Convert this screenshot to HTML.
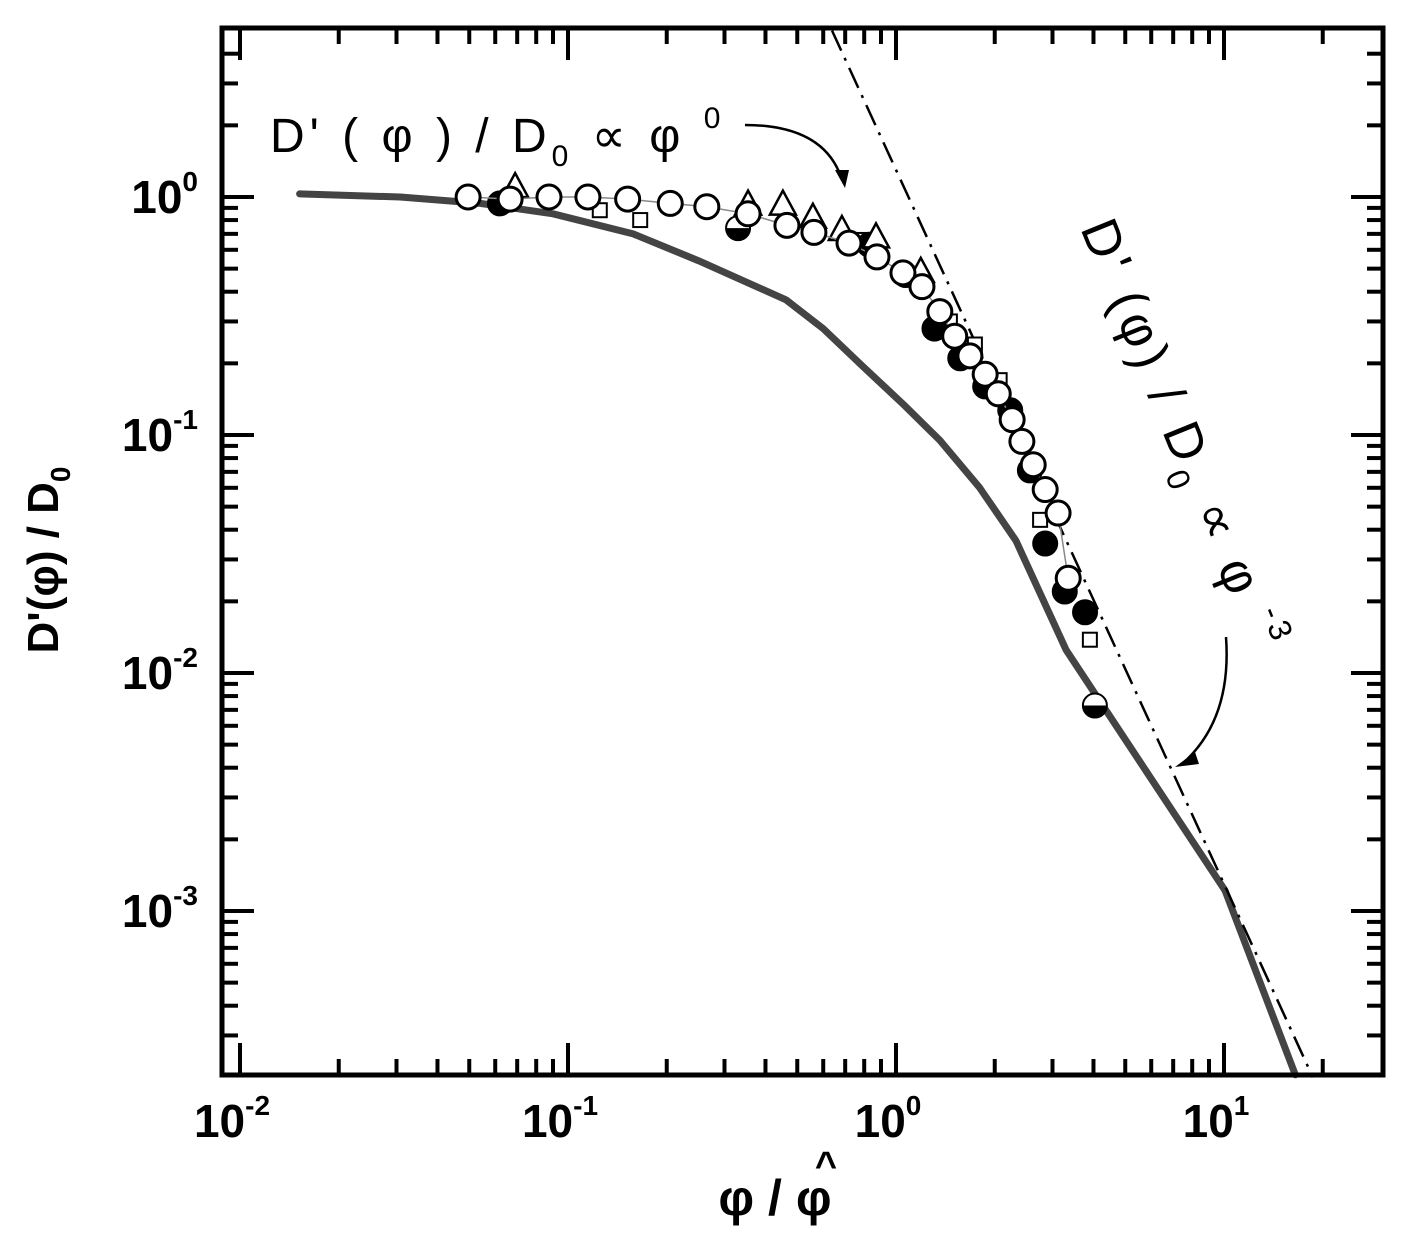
<!DOCTYPE html>
<html><head><meta charset="utf-8"><style>
body{margin:0;background:#fff;}
svg{display:block;}
text{font-family:"Liberation Sans",sans-serif;}
</style></head><body>
<svg id="chart" width="1416" height="1236" viewBox="0 0 1416 1236" xmlns="http://www.w3.org/2000/svg">
<g id="marks"></g>
<g id="axes"></g>
<text x="270" y="152" font-size="48" letter-spacing="5">D' ( φ ) / D<tspan font-size="30" dy="14">0</tspan><tspan dy="-14"> ∝ φ </tspan><tspan font-size="30" dy="-24">0</tspan></text>
<path d="M745,125 Q825,125 842,180" fill="none" stroke="#000" stroke-width="2.5"/>
<polygon points="835,170 849,170 845,188" fill="#000"/>
<text transform="translate(1080,228) rotate(68)" font-size="52" letter-spacing="5">D' (φ) / D<tspan font-size="32" dy="14">0</tspan><tspan dy="-14"> ∝ φ </tspan><tspan font-size="32" dy="-24">-3</tspan></text>
<path d="M1226,637 Q1232,720 1182,764" fill="none" stroke="#000" stroke-width="2.5"/>
<polygon points="1175,767 1195,752 1199,764" fill="#000"/>
<text transform="translate(58,560) rotate(-90)" text-anchor="middle" font-size="44" font-weight="bold">D'(φ) / D<tspan font-size="28" dy="12">0</tspan></text>
<text x="775" y="1215" text-anchor="middle" font-size="50" font-weight="bold">φ / φ</text>
<text x="826" y="1178" text-anchor="middle" font-size="38" font-weight="bold">^</text>
</svg>
<script>
const circleX=[0.0496,0.0666,0.0875,0.115,0.152,0.205,0.265,0.354,0.465,0.562,0.719,0.875,1.05,1.2,1.36,1.51,1.68,1.87,2.05,2.26,2.42,2.62,2.85,3.12,3.35];
const circleY=[1.0,0.98,1.0,1.0,0.98,0.94,0.91,0.85,0.76,0.71,0.64,0.56,0.48,0.42,0.33,0.26,0.215,0.18,0.149,0.116,0.094,0.075,0.059,0.047,0.025];
const triX=[0.069,0.354,0.452,0.558,0.684,0.869,1.19];
const triY=[1.09,0.92,0.92,0.81,0.72,0.67,0.48];
const filledX=[0.062,0.33,0.83,1.07,1.31,1.57,1.87,2.23,2.56,2.85,3.27,3.77,4.04];
const filledY=[0.94,0.74,0.63,0.47,0.28,0.21,0.16,0.127,0.071,0.035,0.022,0.018,0.0073];
const squareX=[0.125,0.166,0.78,1.46,1.74,2.07,2.75,3.9];
const squareY=[0.88,0.80,0.66,0.30,0.24,0.17,0.044,0.0138];
const curveX=[0.0152,0.0308,0.054,0.09,0.158,0.25,0.462,0.6,0.79,1.05,1.36,1.8,2.32,3.3,5.17,10.07,16.5];
const curveY=[1.03,1.0,0.94,0.85,0.70,0.54,0.37,0.28,0.195,0.135,0.095,0.06,0.036,0.0125,0.0049,0.00122,0.000205];
const powerA=1.3, powerExp=-3;
const xTicks=[0.01,0.1,1,10];
const xTickLabels=["-2","-1","0","1"];
const yTicks=[1,0.1,0.01,0.001];
const yTickLabels=["0","-1","-2","-3"];

const L=222,R=1383,T=28,B=1075;
const X0=896,XD=328,Y0=197,YD=238;
const sx=v=>X0+XD*Math.log10(v);
const sy=v=>Y0-YD*Math.log10(v);
const NS="http://www.w3.org/2000/svg";
const marks=document.getElementById('marks'), axes=document.getElementById('axes');
function mk(tag,attrs,parent){const e=document.createElementNS(NS,tag);for(const k in attrs)e.setAttribute(k,attrs[k]);parent.appendChild(e);return e;}

// model curve (polyline)
const d=curveX.map((x,i)=>(i?'L':'M')+sx(x).toFixed(1)+','+sy(curveY[i]).toFixed(1)).join(' ');
const cv=mk('path',{d:d,fill:'none',stroke:'#444','stroke-width':7,'stroke-linejoin':'round','stroke-linecap':'round'},marks);


// power law line
const xa=Math.pow(5/powerA,1/powerExp), xb=Math.pow(0.0002/powerA,1/powerExp);
const pl=mk('line',{x1:sx(xa),y1:sy(powerA*Math.pow(xa,powerExp)),x2:sx(xb),y2:sy(powerA*Math.pow(xb,powerExp)),stroke:'#000','stroke-width':2.5,'stroke-dasharray':'22,8,3,8'},marks);


// squares
squareX.forEach((x,i)=>{const e=mk('rect',{x:sx(x)-7,y:sy(squareY[i])-7,width:14,height:14,fill:'#fff',stroke:'#000','stroke-width':2},marks);

});
// filled
filledX.forEach((x,i)=>{const cx=sx(x),cy=sy(filledY[i]);
const e=mk('circle',{cx:cx,cy:cy,r:12,fill:'#000',stroke:'#000','stroke-width':2},marks);


if(i==1||i==filledX.length-1){e.setAttribute('fill','#fff');mk('path',{d:`M${cx-12},${cy} A12,12 0 0 0 ${cx+12},${cy} Z`,fill:'#000'},marks);}});
// triangles
triX.forEach((x,i)=>{const cx=sx(x),cy=sy(triY[i]);
const e=mk('polygon',{points:`${cx},${cy-15} ${cx-13},${cy+9} ${cx+13},${cy+9}`,fill:'#fff',stroke:'#000','stroke-width':2.5},marks);

});
// circles connector
mk('path',{d:circleX.map((x,i)=>(i?'L':'M')+sx(x)+','+sy(circleY[i])).join(' '),fill:'none',stroke:'#888','stroke-width':1.5},marks);
circleX.forEach((x,i)=>{const e=mk('circle',{cx:sx(x),cy:sy(circleY[i]),r:12,fill:'#fff',stroke:'#000','stroke-width':3},marks);

});

// frame
const fr=mk('rect',{x:L,y:T,width:R-L,height:B-T,fill:'none',stroke:'#000','stroke-width':5},axes);


// x ticks
for(let e=-3;e<=1;e++)for(let m=1;m<10;m++){const v=m*Math.pow(10,e),px=sx(v);if(px<L+3||px>R-3)continue;
const len=m==1?32:16;
mk('line',{x1:px,y1:B,x2:px,y2:B-len,stroke:'#000','stroke-width':4},axes);
mk('line',{x1:px,y1:T,x2:px,y2:T+len,stroke:'#000','stroke-width':4},axes);}
xTicks.forEach((v,i)=>{const t=mk('text',{x:sx(v)-8,y:1137,'text-anchor':'middle','font-size':46,'font-weight':'bold'},axes);
t.textContent='10';


const s=mk('tspan',{'font-size':28,dy:-22},t);s.textContent=xTickLabels[i];});
// y ticks
for(let e=-4;e<=0;e++)for(let m=1;m<10;m++){const v=m*Math.pow(10,e),py=sy(v);if(py>B-3||py<T+3)continue;
const len=m==1?32:16;
mk('line',{x1:L,y1:py,x2:L+len,y2:py,stroke:'#000','stroke-width':4},axes);
mk('line',{x1:R,y1:py,x2:R-len,y2:py,stroke:'#000','stroke-width':4},axes);}
yTicks.forEach((v,i)=>{const t=mk('text',{x:198,y:sy(v)+16,'text-anchor':'end','font-size':46,'font-weight':'bold'},axes);
t.textContent='10';


const s=mk('tspan',{'font-size':28,dy:-22},t);s.textContent=yTickLabels[i];});
</script>
</body></html>
